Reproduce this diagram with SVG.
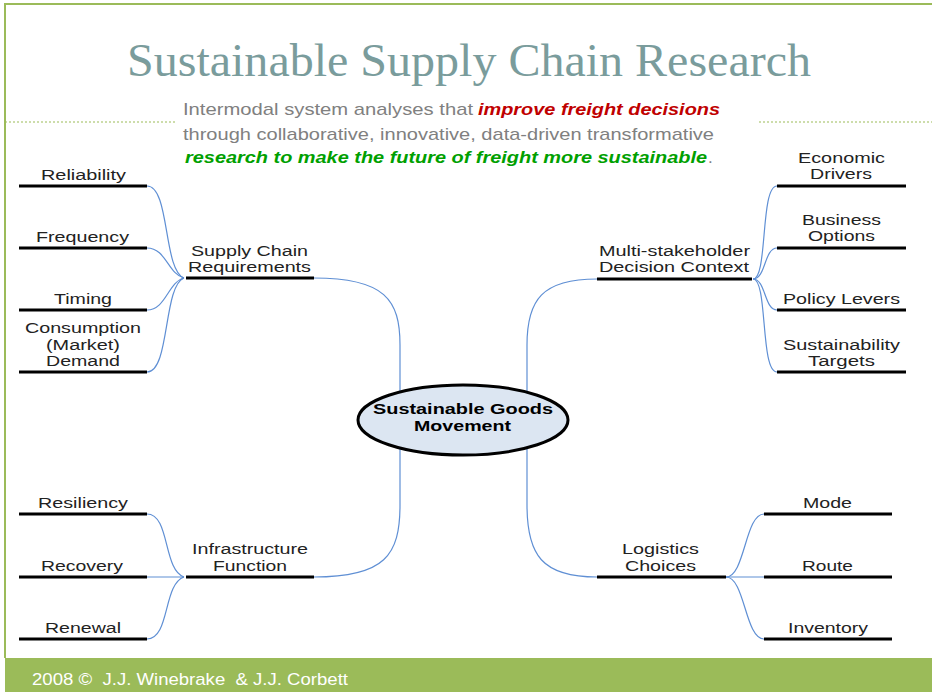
<svg xmlns="http://www.w3.org/2000/svg" width="932" height="692" viewBox="0 0 932 692">
<style>
.lbl{font-family:"Liberation Sans",Arial,sans-serif;font-size:15.5px;fill:#222}
.bold{font-weight:bold;fill:#000}
.bar{stroke:#000;stroke-width:3;fill:none}
.con{stroke:#5f8fd4;stroke-width:1.2;fill:none}
.sub{font-family:"Liberation Sans",Arial,sans-serif;font-size:17px}
</style>
<rect x="0" y="0" width="932" height="692" fill="#fff"/>
<g id="frame">
<path d="M5,658 V4 H932" fill="none" stroke="#9BBB59" stroke-width="2"/>
<rect x="5" y="658" width="927" height="34" fill="#9BBB59"/>
<line x1="5" y1="122" x2="175" y2="122" stroke="#9BBB59" stroke-width="1.2" stroke-dasharray="2,2"/>
<line x1="759" y1="122" x2="932" y2="122" stroke="#9BBB59" stroke-width="1.2" stroke-dasharray="2,2"/>
<text x="32" y="685" xml:space="preserve" font-family="'Liberation Sans',Arial,sans-serif" font-size="17" fill="#fff" textLength="316" lengthAdjust="spacingAndGlyphs">2008 ©  J.J. Winebrake  &amp; J.J. Corbett</text>
</g>
<g id="title">
<text x="127" y="76" font-family="'Liberation Serif','Times New Roman',serif" font-size="46" fill="#7A9C9C" textLength="684" lengthAdjust="spacingAndGlyphs">Sustainable Supply Chain Research</text>
<text class="sub" x="183" y="115" fill="#808080" textLength="290" lengthAdjust="spacingAndGlyphs">Intermodal system analyses that</text>
<text class="sub" x="478" y="115" fill="#C00000" font-weight="bold" font-style="italic" textLength="242" lengthAdjust="spacingAndGlyphs">improve freight decisions</text>
<text class="sub" x="183" y="140" fill="#808080" textLength="531" lengthAdjust="spacingAndGlyphs">through collaborative, innovative, data-driven transformative</text>
<text class="sub" x="185" y="163" fill="#00A000" font-weight="bold" font-style="italic" textLength="522" lengthAdjust="spacingAndGlyphs">research to make the future of freight more sustainable</text>
<text class="sub" x="708" y="163" fill="#808080">.</text>
</g>
<g id="connectors">
<path class="con" d="M147,186 C170,186 163,270 184,278"/>
<path class="con" d="M147,248 C166,248 168,274 184,278"/>
<path class="con" d="M147,310 C166,310 168,282 184,278"/>
<path class="con" d="M147,372 C170,372 163,286 184,278"/>
<path class="con" d="M314,278 C385,278 400,300 400,345 L400,392"/>
<path class="con" d="M597,279 C542,279 527,300 527,345 L527,392"/>
<path class="con" d="M753,279 C768,279 760,186 777,186"/>
<path class="con" d="M753,279 C766,279 764,248 777,248"/>
<path class="con" d="M753,279 C766,279 764,310 777,310"/>
<path class="con" d="M753,279 C768,279 760,372 777,372"/>
<path class="con" d="M147,514 C170,514 163,570 184,577"/>
<path class="con" d="M147,577 L184,577"/>
<path class="con" d="M147,639 C170,639 163,584 184,577"/>
<path class="con" d="M314,577 C385,577 400,555 400,505 L400,449"/>
<path class="con" d="M527,449 L527,505 C527,555 542,577 597,577"/>
<path class="con" d="M726,577 C745,577 745,514 764,514"/>
<path class="con" d="M726,577 L764,577"/>
<path class="con" d="M726,577 C745,577 745,639 764,639"/>
</g>
<g id="center">
<ellipse cx="463" cy="420" rx="105" ry="35" fill="#DCE6F2" stroke="#000" stroke-width="3"/>
<text class="lbl bold" x="373" y="414" textLength="180" lengthAdjust="spacingAndGlyphs">Sustainable Goods</text>
<text class="lbl bold" x="414" y="431" textLength="97" lengthAdjust="spacingAndGlyphs">Movement</text>
</g>
<g id="supply-chain">
<line class="bar" x1="186" y1="278" x2="314" y2="278"/>
<text class="lbl" x="191" y="256" textLength="117" lengthAdjust="spacingAndGlyphs">Supply Chain</text>
<text class="lbl" x="188" y="272" textLength="123" lengthAdjust="spacingAndGlyphs">Requirements</text>
</g>
<g id="reliability">
<line class="bar" x1="19" y1="186" x2="147" y2="186"/>
<text class="lbl" x="41" y="180" textLength="85" lengthAdjust="spacingAndGlyphs">Reliability</text>
</g>
<g id="frequency">
<line class="bar" x1="19" y1="248" x2="147" y2="248"/>
<text class="lbl" x="36" y="242" textLength="93" lengthAdjust="spacingAndGlyphs">Frequency</text>
</g>
<g id="timing">
<line class="bar" x1="19" y1="310" x2="147" y2="310"/>
<text class="lbl" x="54" y="304" textLength="58" lengthAdjust="spacingAndGlyphs">Timing</text>
</g>
<g id="consumption">
<line class="bar" x1="19" y1="372" x2="147" y2="372"/>
<text class="lbl" x="25" y="333" textLength="116" lengthAdjust="spacingAndGlyphs">Consumption</text>
<text class="lbl" x="46" y="350" textLength="74" lengthAdjust="spacingAndGlyphs">(Market)</text>
<text class="lbl" x="46" y="366" textLength="74" lengthAdjust="spacingAndGlyphs">Demand</text>
</g>
<g id="multi-stakeholder">
<line class="bar" x1="597" y1="279" x2="752" y2="279"/>
<text class="lbl" x="599" y="256" textLength="151" lengthAdjust="spacingAndGlyphs">Multi-stakeholder</text>
<text class="lbl" x="599" y="272" textLength="150" lengthAdjust="spacingAndGlyphs">Decision Context</text>
</g>
<g id="economic">
<line class="bar" x1="777" y1="186" x2="906" y2="186"/>
<text class="lbl" x="798" y="163" textLength="87" lengthAdjust="spacingAndGlyphs">Economic</text>
<text class="lbl" x="810" y="179" textLength="62" lengthAdjust="spacingAndGlyphs">Drivers</text>
</g>
<g id="business">
<line class="bar" x1="777" y1="248" x2="906" y2="248"/>
<text class="lbl" x="802" y="225" textLength="79" lengthAdjust="spacingAndGlyphs">Business</text>
<text class="lbl" x="808" y="241" textLength="67" lengthAdjust="spacingAndGlyphs">Options</text>
</g>
<g id="policy">
<line class="bar" x1="777" y1="310" x2="906" y2="310"/>
<text class="lbl" x="783" y="304" textLength="117" lengthAdjust="spacingAndGlyphs">Policy Levers</text>
</g>
<g id="sustainability">
<line class="bar" x1="777" y1="372" x2="906" y2="372"/>
<text class="lbl" x="783" y="350" textLength="117" lengthAdjust="spacingAndGlyphs">Sustainability</text>
<text class="lbl" x="808" y="366" textLength="67" lengthAdjust="spacingAndGlyphs">Targets</text>
</g>
<g id="infrastructure">
<line class="bar" x1="186" y1="577" x2="314" y2="577"/>
<text class="lbl" x="192" y="554" textLength="116" lengthAdjust="spacingAndGlyphs">Infrastructure</text>
<text class="lbl" x="213" y="571" textLength="74" lengthAdjust="spacingAndGlyphs">Function</text>
</g>
<g id="resiliency">
<line class="bar" x1="19" y1="514" x2="147" y2="514"/>
<text class="lbl" x="38" y="508" textLength="90" lengthAdjust="spacingAndGlyphs">Resiliency</text>
</g>
<g id="recovery">
<line class="bar" x1="19" y1="577" x2="147" y2="577"/>
<text class="lbl" x="41" y="571" textLength="82" lengthAdjust="spacingAndGlyphs">Recovery</text>
</g>
<g id="renewal">
<line class="bar" x1="19" y1="639" x2="147" y2="639"/>
<text class="lbl" x="45" y="633" textLength="76" lengthAdjust="spacingAndGlyphs">Renewal</text>
</g>
<g id="logistics">
<line class="bar" x1="597" y1="577" x2="726" y2="577"/>
<text class="lbl" x="622" y="554" textLength="77" lengthAdjust="spacingAndGlyphs">Logistics</text>
<text class="lbl" x="625" y="571" textLength="71" lengthAdjust="spacingAndGlyphs">Choices</text>
</g>
<g id="mode">
<line class="bar" x1="764" y1="514" x2="892" y2="514"/>
<text class="lbl" x="803" y="508" textLength="49" lengthAdjust="spacingAndGlyphs">Mode</text>
</g>
<g id="route">
<line class="bar" x1="764" y1="577" x2="892" y2="577"/>
<text class="lbl" x="802" y="571" textLength="51" lengthAdjust="spacingAndGlyphs">Route</text>
</g>
<g id="inventory">
<line class="bar" x1="764" y1="639" x2="892" y2="639"/>
<text class="lbl" x="788" y="633" textLength="80" lengthAdjust="spacingAndGlyphs">Inventory</text>
</g>
</svg>
